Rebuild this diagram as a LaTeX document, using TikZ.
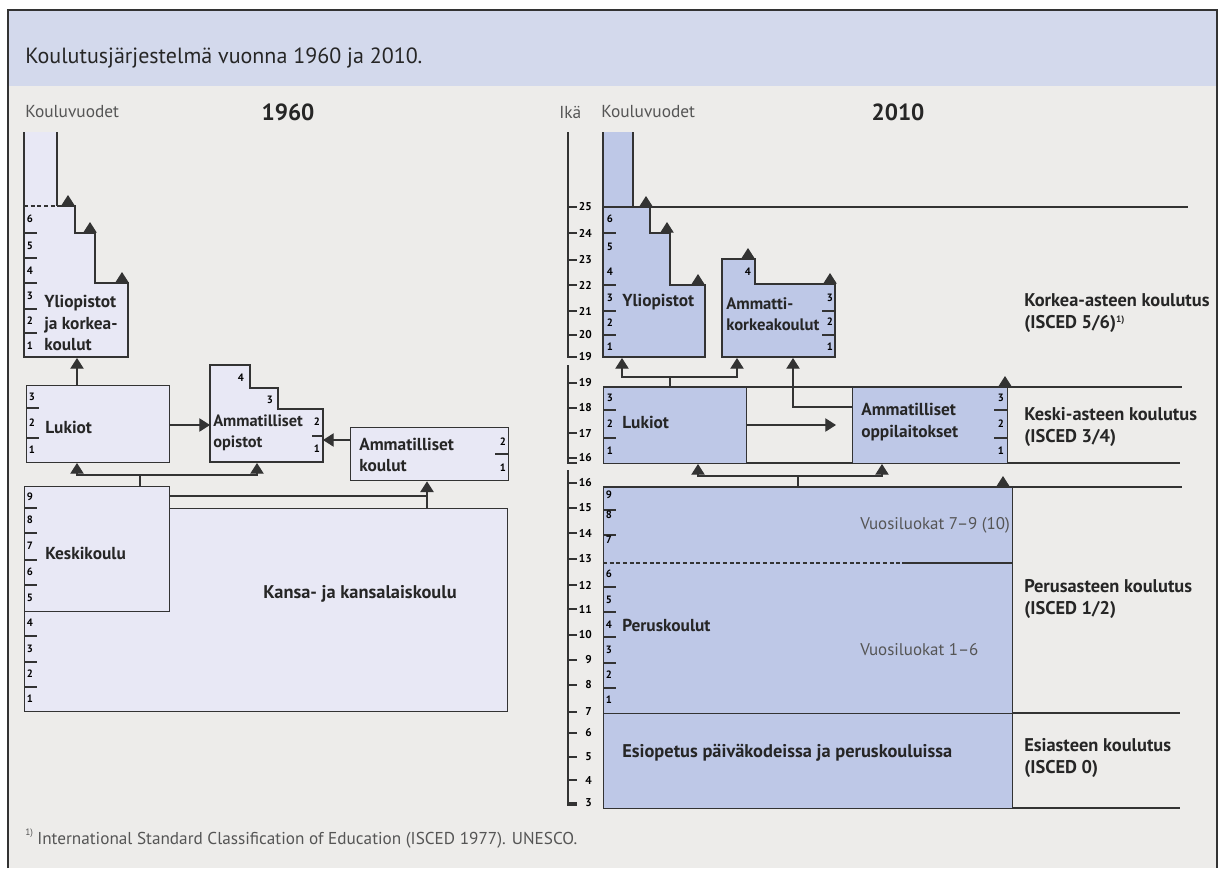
\documentclass[tikz,border=0pt]{standalone}
\usepackage{fontspec}
\setmainfont{PT Sans}
\usetikzlibrary{arrows.meta}
\definecolor{bg}{HTML}{EDECEA}
\definecolor{hdr}{HTML}{D3D9EC}
\definecolor{oldc}{HTML}{E8E8F5}
\definecolor{newc}{HTML}{BEC8E7}
\definecolor{lc}{HTML}{333333}
\definecolor{txt}{HTML}{262626}
\definecolor{graytxt}{HTML}{555555}
\tikzset{
  boxline/.style={draw=lc, line width=1pt},
  oldbox/.style={boxline, fill=oldc},
  newbox/.style={boxline, fill=newc},
  conn/.style={draw=lc, line width=0.9pt},
  tipa/.style={conn, -{Triangle[width=10pt,length=8pt]}},
  tick/.style={draw=lc, line width=0.9pt},
  lbl/.style={font=\bfseries\fontsize{13}{16}\selectfont, text=txt, anchor=west, inner sep=0pt, align=left},
  biglbl/.style={lbl, font=\bfseries\fontsize{13.8}{16.5}\selectfont},
  glbl/.style={font=\fontsize{13}{15.5}\selectfont, text=graytxt, anchor=west, inner sep=0pt, align=left},
  vlbl/.style={glbl, font=\fontsize{12.7}{15}\selectfont},
  year/.style={font=\bfseries\fontsize{17.5}{20}\selectfont, text=txt, inner sep=0pt},
  num/.style={font=\bfseries\fontsize{8}{9}\selectfont, text=black, inner sep=0pt},
  age/.style={font=\bfseries\fontsize{8.5}{9}\selectfont, text=black, inner sep=0pt, anchor=east},
}
\begin{document}
\begin{tikzpicture}[x=0.75pt,y=-0.75pt]
\useasboundingbox (0,0) rectangle (1219,868);
\fill[white] (0,0) rectangle (1219,868);
\fill[bg] (8,10) rectangle (1217,868);
\fill[hdr] (8,10) rectangle (1217,86);
\draw[lc, line width=1pt] (8,868) -- (8,10) -- (1217,10) -- (1217,868);
\draw[lc, line width=1.5pt] (8,10) -- (1217,10);

% header
\node[anchor=west, inner sep=0pt, text=txt, font=\fontsize{16.5}{18}\selectfont] (title) at (25,58) {Koulutusjärjestelmä vuonna 1960 ja 2010.};

%================ 1960 ================
\node[glbl] (kv60) at (25,112) {Kouluvuodet};
\node[year] (y60) at (288,112) {1960};

% column above universities
\fill[oldc] (24,132) rectangle (57,206);
\draw[boxline] (24,132) -- (24,206);
\draw[boxline] (57,132) -- (57,206);
% universities
\fill[oldc] (24,206) -- (75,206) -- (75,233) -- (95,233) -- (95,283) -- (128,283) -- (128,357) -- (24,357) -- cycle;
\draw[boxline] (57,206) -- (75,206) -- (75,233) -- (95,233) -- (95,283) -- (128,283) -- (128,357) -- (24,357) -- (24,206);
\draw[conn, dashed, dash pattern=on 3pt off 2pt] (24,206) -- (57,206);
\foreach \y in {233,258,283,309,333} \draw[tick] (24,\y) -- (37,\y);
\foreach \n/\y in {6/219,5/246,4/271,3/296,2/321,1/346} \node[num] (u60n\n) at (30,\y) {\n};
\node[lbl] (yo60) at (44,323) {Yliopistot\\ja korkea-\\koulut};
\draw[tipa] (68,206) -- (68,195);
\draw[tipa] (90,233) -- (90,222);
\draw[tipa] (122,283) -- (122,272);

% Lukiot 1960
\node[oldbox, minimum width=143*0.75pt, minimum height=77*0.75pt, anchor=north west, inner sep=0pt] (luk60) at (26,385) {};
\foreach \y in {408,438} \draw[tick] (26,\y) -- (39,\y);
\foreach \n/\y in {3/397,2/423,1/450} \node[num] (l60n\n) at (32,\y) {\n};
\node[lbl] (luk60t) at (45,427) {Lukiot};

% Ammatilliset opistot
\draw[oldbox] (210,365) -- (250,365) -- (250,388) -- (278,388) -- (278,409) -- (323,409) -- (323,462) -- (210,462) -- cycle;
\node[num] (ao4) at (241,378) {4};
\node[num] (ao3) at (270,400) {3};
\node[num] (ao2) at (317,422) {2};
\draw[tick] (312,436) -- (323,436);
\node[num] (ao1) at (317,449) {1};
\node[lbl, font=\bfseries\fontsize{12.3}{15.5}\selectfont] (aot) at (213,433) {Ammatilliset\\opistot};

% Ammatilliset koulut
\node[oldbox, minimum width=158*0.75pt, minimum height=53*0.75pt, anchor=north west, inner sep=0pt] (ak60) at (350,427) {};
\node[num] (ak2) at (503,442) {2};
\draw[tick] (495,454) -- (508,454);
\node[num] (ak1) at (503,468) {1};
\node[lbl] (akt) at (359,455) {Ammatilliset\\koulut};

% Kansa- ja kansalaiskoulu + Keskikoulu
\node[oldbox, minimum width=483*0.75pt, minimum height=203*0.75pt, anchor=north west, inner sep=0pt] (kansa) at (24,508) {};
\node[oldbox, minimum width=145*0.75pt, minimum height=125*0.75pt, anchor=north west, inner sep=0pt] (kesk) at (24,486) {};
\foreach \y in {508,533,560,585,636,662,687} \draw[tick] (24,\y) -- (37,\y);
\foreach \n/\y in {9/497,8/520,7/546,6/572,5/598,4/623,3/649,2/674,1/699} \node[num] (k60n\n) at (30,\y) {\n};
\node[lbl] (keskt) at (45,553) {Keskikoulu};
\node[biglbl, anchor=center] (kansat) at (360,594) {Kansa- ja kansalaiskoulu};

% connectors 1960
\draw[tipa] (luk60.north -| 77,0) -- (77,358);
\draw[tipa] (luk60.east |- 0,425) -- (210,425);
\draw[tipa] (ak60.west |- 0,440) -- (323,440);
\coordinate (kj) at (140,475);
\draw[conn] (kesk.north -| kj) -- (kj);
\draw[tipa] (kj) -| (77,463);
\draw[tipa] (kj) -| (257,463);
\draw[conn] (kesk.east |- 0,496) -- (427,496);
\draw[tipa] (kansa.north -| 427,0) -- (ak60.south -| 427,0);

%================ 2010 ================
\node[glbl] (ika) at (559,112) {Ikä};
\node[glbl] (kv10) at (601,112) {Kouluvuodet};
\node[year] (y10) at (898,112) {2010};

% age axis
\draw[conn] (568,132) -- (568,357) -- (577,357);
\draw[conn] (568,365) -- (568,463) -- (577,463);
\draw[conn] (568,470) -- (568,805) -- (577,805);
\foreach \a/\y in {25/207,24/233,23/260,22/285,21/311,20/335,19/357,
                   19/383,18/408,17/433,16/458,
                   16/483,15/508,14/533,13/559,12/585,11/609,10/635,9/660,8/685,7/712,6/733,5/757,4/780,3/803}{
  \draw[tick] (568,\y) -- (577,\y);
  \node[age] at (592,\y) {\a};
}

% horizontal level lines
\draw[conn] (603,207) -- (1188,207);
\draw[conn] (603,387) -- (1182,387);
\draw[conn] (603,463) -- (1180,463);
\draw[conn] (603,487) -- (1182,487);
\draw[conn] (603,713) -- (1180,713);
\draw[conn] (603,808) -- (1180,808);

% column above
\fill[newc] (603,132) rectangle (633,207);
\draw[boxline] (603,132) -- (603,207);
\draw[boxline] (633,132) -- (633,207);
% Yliopistot
\draw[newbox] (603,207) -- (650,207) -- (650,233) -- (670,233) -- (670,285) -- (705,285) -- (705,357) -- (603,357) -- cycle;
\foreach \y in {233,285,311,335} \draw[tick] (603,\y) -- (616,\y);
\foreach \n/\y in {6/219,5/247,4/272,3/298,2/323,1/347} \node[num] (u10n\n) at (610,\y) {\n};
\node[lbl] (yo10) at (622,302) {Yliopistot};
\draw[tipa] (646,207) -- (646,196);
\draw[tipa] (667,233) -- (667,222);
\draw[tipa] (698,285) -- (698,274);

% AMK
\draw[newbox] (722,259) -- (755,259) -- (755,284) -- (835,284) -- (835,357) -- (722,357) -- cycle;
\node[num] (amk4) at (748,272) {4};
\node[num] (amk3) at (830,298) {3};
\draw[tick] (822,311) -- (835,311);
\node[num] (amk2) at (830,322) {2};
\draw[tick] (822,335) -- (835,335);
\node[num] (amk1) at (830,347) {1};
\node[lbl, font=\bfseries\fontsize{12.5}{15.5}\selectfont] (amkt) at (726,314) {Ammatti-\\korkeakoulut};
\draw[tipa] (748,259) -- (748,248);
\draw[tipa] (830,284) -- (830,273);

% Lukiot 2010
\node[newbox, minimum width=143*0.75pt, minimum height=76*0.75pt, anchor=north west, inner sep=0pt] (luk10) at (603,387) {};
\foreach \y in {410,438} \draw[tick] (603,\y) -- (616,\y);
\foreach \n/\y in {3/398,2/424,1/451} \node[num] (l10n\n) at (610,\y) {\n};
\node[lbl] (luk10t) at (622,422) {Lukiot};

% Ammatilliset oppilaitokset
\node[newbox, minimum width=155*0.75pt, minimum height=76*0.75pt, anchor=north west, inner sep=0pt] (aop) at (852,387) {};
\foreach \y in {410,438} \draw[tick] (994,\y) -- (1007,\y);
\foreach \n/\y in {3/398,2/424,1/451} \node[num] (aopn\n) at (1001,\y) {\n};
\node[lbl] (aopt) at (861,422) {Ammatilliset\\oppilaitokset};
\draw[tipa] (1005,387) -- (1005,376);

% Peruskoulut
\node[newbox, minimum width=409*0.75pt, minimum height=226*0.75pt, anchor=north west, inner sep=0pt] (perus) at (603,487) {};
\draw[conn, dashed, dash pattern=on 3pt off 2pt] (603,563) -- (902,563);
\draw[conn] (902,563) -- (1012,563);
\foreach \y in {510,535,587,612,637,663,688} \draw[tick] (603,\y) -- (616,\y);
\foreach \n/\y in {9/495,8/515,7/540,6/574,5/600,4/625,3/650,2/675,1/700} \node[num] (p10n\n) at (609,\y) {\n};
\node[lbl] (perust) at (622,625) {Peruskoulut};
\node[vlbl] (vl79) at (860,525) {Vuosiluokat 7–9 (10)};
\node[vlbl] (vl16) at (860,650) {Vuosiluokat 1–6};
\draw[tipa] (1003,487) -- (1003,476);

% Esiopetus
\node[newbox, minimum width=409*0.75pt, minimum height=95*0.75pt, anchor=north west, inner sep=0pt] (esi) at (603,713) {};
\node[biglbl] (esit) at (622,753) {Esiopetus päiväkodeissa ja peruskouluissa};

% connectors 2010
\coordinate (lj) at (670,377);
\draw[conn] (luk10.north -| lj) -- (lj);
\draw[tipa] (lj) -| (622,358);
\draw[tipa] (lj) -| (737,358);
\draw[tipa] (aop.west |- 0,407) -| (793,358);
\draw[tipa] (luk10.east |- 0,425) -- (836,425);
\coordinate (pj) at (798,476);
\draw[conn] (perus.north -| pj) -- (pj);
\draw[tipa] (pj) -| (698,464);
\draw[tipa] (pj) -| (882,464);

% level labels
\node[biglbl] (lv1) at (1024,313) {Korkea-asteen koulutus\\(ISCED 5/6)\raisebox{0.6ex}{\fontsize{7}{8}\selectfont 1)}};
\node[biglbl] (lv2) at (1024,427) {Keski-asteen koulutus\\(ISCED 3/4)};
\node[biglbl] (lv3) at (1024,599) {Perusasteen koulutus\\(ISCED 1/2)};
\node[biglbl] (lv4) at (1024,758) {Esiasteen koulutus\\(ISCED 0)};

% footnote
\node[anchor=west, inner sep=0pt, text=graytxt, font=\fontsize{7}{8}\selectfont] (fn1) at (25,833) {1)};
\node[anchor=west, inner sep=0pt, text=graytxt, font=\fontsize{12.9}{14}\selectfont] (fn) at (37,840) {International Standard Classification of Education (ISCED 1977). UNESCO.};
\end{tikzpicture}
\end{document}
